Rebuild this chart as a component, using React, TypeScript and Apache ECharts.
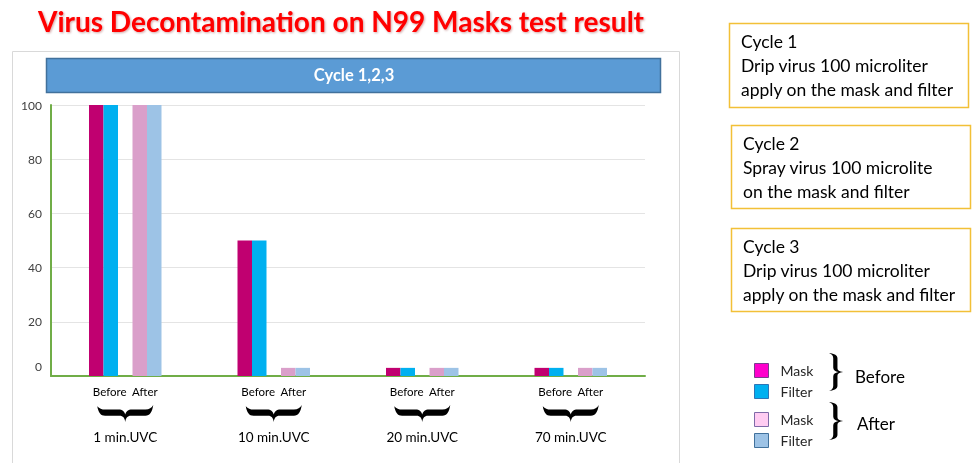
import React, { useEffect, useRef } from "react";
import * as echarts from "echarts";

const categories = ["1 min.UVC", "10 min.UVC", "20 min.UVC", "70 min.UVC"];
const maskBefore = [100, 50, 3, 3];
const filterBefore = [100, 50, 3, 3];
const maskAfter = [100, 3, 3, 3];
const filterAfter = [100, 3, 3, 3];
const yTicks = [0, 20, 40, 60, 80, 100];

const cycleNotes = [
  ["Cycle 1", "Drip virus 100 microliter", "apply on the mask and filter"],
  ["Cycle 2", "Spray virus 100 microlite", "on the mask and filter"],
  ["Cycle 3", "Drip virus 100 microliter", "apply on the mask and filter"],
];

const HBRACE =
  "M0 2 C2 13 6 19 14 19 L40 19 C46 19 49 23 50 30 C51 23 54 19 60 19 L86 19 C94 19 98 13 100 0 C97 5 93 8 86 8 L62 8 C55 8 52 11 50 17 C48 11 45 8 38 8 L14 8 C8 8 4 6 0 2 Z";
const VBRACE =
  "M0 0 C12 2 18 6 18 14 L18 40 C18 46 22 49 30 50 C22 51 18 54 18 60 L18 86 C18 94 12 98 0 100 C6 97 9 93 9 86 L9 62 C9 55 13 52 20 50 C13 48 9 45 9 38 L9 14 C9 7 6 3 0 0 Z";

let registered = false;
function registerShapes() {
  if (registered) return;
  registered = true;
  echarts.graphic.registerShape("vbrace", echarts.graphic.extendPath(VBRACE, {}) as any);
}

const FONT = "Lato, 'Noto Sans', sans-serif";

export default function App() {
  const ref = useRef<HTMLDivElement>(null);
  useEffect(() => {
    if (!ref.current) return;
    registerShapes();
    const chart = echarts.init(ref.current, null, { renderer: "svg" });
    const boxes = [
      { x: 729.5, y: 23.5, w: 239, h: 84 },
      { x: 731.5, y: 125.5, w: 239, h: 83 },
      { x: 731.5, y: 228.5, w: 239, h: 83 },
    ];
    const graphics: any[] = [
      {
        type: "text",
        x: 341,
        y: 21,
        style: {
          text: "Virus Decontamination on N99 Masks test result",
          fill: "#ff0000",
          font: `bold 28px ${FONT}`,
          textAlign: "center",
          textVerticalAlign: "middle",
          textShadowColor: "rgba(120,0,0,0.35)",
          textShadowBlur: 2,
          textShadowOffsetX: 1,
          textShadowOffsetY: 1,
        },
      },
      {
        type: "rect",
        shape: { x: 12.5, y: 51.5, width: 667, height: 430 },
        style: { fill: "none", stroke: "#d9d9d9", lineWidth: 1 },
        silent: true,
      },
      {
        type: "rect",
        shape: { x: 46.5, y: 58.5, width: 614, height: 34 },
        style: { fill: "#5b9bd5", stroke: "#41719c", lineWidth: 1.5 },
        silent: true,
      },
      {
        type: "text",
        x: 354,
        y: 75,
        style: {
          text: "Cycle 1,2,3",
          fill: "#ffffff",
          font: `bold 16.5px ${FONT}`,
          textAlign: "center",
          textVerticalAlign: "middle",
        },
      },
    ];
    boxes.forEach((b, i) => {
      graphics.push({
        type: "rect",
        shape: { x: b.x, y: b.y, width: b.w, height: b.h },
        style: { fill: "#fff", stroke: "#f2c037", lineWidth: 1.5 },
        silent: true,
      });
      graphics.push({
        type: "text",
        x: b.x + 11.5,
        y: b.y + 6,
        style: {
          text: cycleNotes[i].join("\n"),
          fill: "#000",
          font: `17.5px ${FONT}`,
          lineHeight: 24,
        },
      });
    });
    graphics.push(
      {
        type: "vbrace",
        x: 829,
        y: 353,
        scaleX: 0.47,
        scaleY: 0.38,
        style: { fill: "#000" },
      },
      {
        type: "vbrace",
        x: 829,
        y: 402,
        scaleX: 0.47,
        scaleY: 0.38,
        style: { fill: "#000" },
      },
      {
        type: "text",
        x: 855,
        y: 376,
        style: { text: "Before", fill: "#000", font: `17px ${FONT}`, textVerticalAlign: "middle" },
      },
      {
        type: "text",
        x: 857,
        y: 423,
        style: { text: "After", fill: "#000", font: `17px ${FONT}`, textVerticalAlign: "middle" },
      }
    );

    const legendBase = {
      orient: "vertical",
      left: 749,
      itemWidth: 14,
      itemHeight: 14,
      itemGap: 6,
      icon: "rect",
      formatter: (n: string) => n.split(" ")[0],
      textStyle: { fontSize: 14, color: "#262626", fontFamily: FONT, padding: [0, 0, 0, 7] },
      selectedMode: false,
    };

    const barBase = { type: "bar", barWidth: 14.5, barGap: "0%", silent: true };

    chart.setOption({
      animation: false,
      textStyle: { fontFamily: FONT },
      grid: { left: 51, right: 327, top: 105, bottom: 87 },
      legend: [
        {
          ...legendBase,
          top: 358,
          data: [
            { name: "Mask (Before)", itemStyle: { color: "#ff00cc", borderColor: "#7a3c8f", borderWidth: 1 } },
            { name: "Filter (Before)", itemStyle: { color: "#00b0f0", borderColor: "#2e75b6", borderWidth: 1 } },
          ],
        },
        {
          ...legendBase,
          top: 407,
          data: [
            { name: "Mask (After)", itemStyle: { color: "#ffccf2", borderColor: "#7f6aa8", borderWidth: 1 } },
            { name: "Filter (After)", itemStyle: { color: "#9dc3e6", borderColor: "#41719c", borderWidth: 1 } },
          ],
        },
      ],
      xAxis: {
        type: "category",
        data: categories,
        axisTick: { show: false },
        axisLine: { lineStyle: { color: "#70ad47", width: 2 } },
        axisLabel: {
          interval: 0,
          margin: 8,
          color: "#000",
          formatter: (v: string) => `{ba|Before  After}\n{sp| }\n{uvc|${v}}`,
          rich: {
            ba: { fontSize: 11.5, lineHeight: 14, fontFamily: FONT, color: "#000" },
            sp: { fontSize: 11, lineHeight: 31 },
            uvc: { fontSize: 13.5, lineHeight: 16, fontFamily: FONT, color: "#000" },
          },
        },
      },
      yAxis: {
        type: "value",
        min: 0,
        max: 100,
        interval: 20,
        axisLine: { show: true, lineStyle: { color: "#70ad47", width: 2 } },
        axisTick: { show: false },
        splitLine: { lineStyle: { color: "#e4e4e4", width: 1 } },
        axisLabel: {
          color: "#404040",
          fontSize: 12,
          margin: 9,
          formatter: (v: number) => (v === 0 ? "{z|0}" : String(v)),
          rich: { z: { fontSize: 12, color: "#404040", padding: [0, 0, 20, 0] } },
        },
        data: yTicks,
      },
      series: [
        { ...barBase, name: "Mask (Before)", data: maskBefore, itemStyle: { color: "#c00070" } },
        { ...barBase, name: "Filter (Before)", data: filterBefore, itemStyle: { color: "#00b0f0" } },
        { ...barBase, name: "spacer", data: categories.map(() => "-"), itemStyle: { color: "transparent" } },
        { ...barBase, name: "Mask (After)", data: maskAfter, itemStyle: { color: "#da9fca" } },
        { ...barBase, name: "Filter (After)", data: filterAfter, itemStyle: { color: "#9dc3e6" } },
        {
          type: "custom",
          name: "braces",
          silent: true,
          clip: false,
          data: categories.map((_, i) => [i, 0]),
          encode: { x: 0, y: 1 },
          renderItem: (_params: any, api: any) => {
            const p = api.coord([api.value(0), 0]);
            return {
              type: "path",
              shape: { pathData: HBRACE, x: p[0] - 28, y: p[1] + 29, width: 56, height: 17 },
              style: { fill: "#000" },
            };
          },
        },
      ],
      graphic: graphics,
    });
    return () => chart.dispose();
  }, []);
  return <div ref={ref} style={{ position: "fixed", left: 0, top: 0, width: 972, height: 463 }} />;
}
